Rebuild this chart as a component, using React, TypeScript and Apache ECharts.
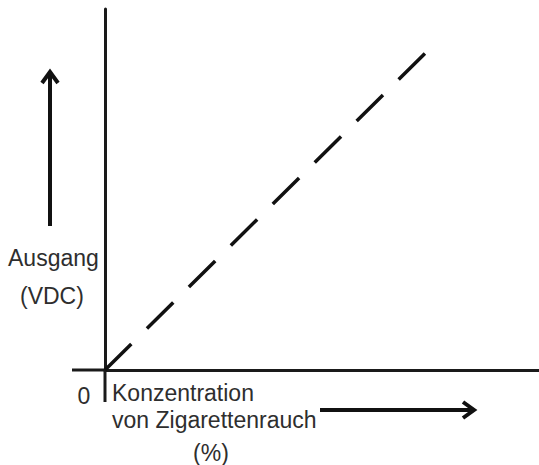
import React, { useEffect, useRef } from "react";
import * as echarts from "echarts";

const concentration = [0, 74];
const output = [0, 88];
const yLabelLines = ["Ausgang", "(VDC)"];
const xLabelLines = ["Konzentration", "von Zigarettenrauch", "(%)"];
const originLabel = "0";

const FONT = "'Liberation Sans', Arial, sans-serif";
const TEXT_COLOR = "#2e2e2e";
const LINE_COLOR = "#1a1a1a";

export default function App() {
  const ref = useRef<HTMLDivElement>(null);
  useEffect(() => {
    if (!ref.current) return;
    const chart = echarts.init(ref.current, undefined, { renderer: "svg" });
    const textStyle = (s: string, x: number, y: number, align = "left") => ({
      type: "text",
      x,
      y,
      style: {
        text: s,
        fill: TEXT_COLOR,
        font: `23px ${FONT}`,
        textAlign: align,
        textVerticalAlign: "middle",
      },
    });
    chart.setOption({
      animation: false,
      backgroundColor: "#ffffff",
      grid: { left: 105, right: 0, top: 9, bottom: 95 },
      xAxis: {
        type: "value",
        min: 0,
        max: 100,
        axisLine: { show: true, onZero: true, lineStyle: { color: LINE_COLOR, width: 3 } },
        axisTick: { show: false },
        axisLabel: { show: false },
        splitLine: { show: false },
      },
      yAxis: {
        type: "value",
        min: 0,
        max: 100,
        axisLine: { show: true, lineStyle: { color: LINE_COLOR, width: 3 } },
        axisTick: { show: false },
        axisLabel: { show: false },
        splitLine: { show: false },
      },
      series: [
        {
          type: "line",
          data: concentration.map((c, i) => [c, output[i]]),
          symbol: "none",
          clip: false,
          lineStyle: { color: "#111111", width: 3.5, type: [37, 22] },
        },
      ],
      graphic: [
        // axis extensions
        { type: "line", shape: { x1: 105, y1: 370, x2: 105, y2: 402 }, style: { stroke: LINE_COLOR, lineWidth: 3 } },
        { type: "line", shape: { x1: 72, y1: 370, x2: 105, y2: 370 }, style: { stroke: LINE_COLOR, lineWidth: 3 } },
        // up arrow
        { type: "line", shape: { x1: 50, y1: 226, x2: 50, y2: 73 }, style: { stroke: "#111", lineWidth: 4 } },
        { type: "polyline", shape: { points: [[42, 83], [50, 72], [58, 83]] }, style: { stroke: "#111", lineWidth: 4, fill: null } },
        // right arrow
        { type: "line", shape: { x1: 320, y1: 410, x2: 473, y2: 410 }, style: { stroke: "#111", lineWidth: 4 } },
        { type: "polyline", shape: { points: [[463, 402], [474, 410], [463, 418]] }, style: { stroke: "#111", lineWidth: 4, fill: null } },
        // texts
        textStyle(yLabelLines[0], 8, 258),
        textStyle(yLabelLines[1], 20, 296),
        textStyle(originLabel, 84, 396, "center"),
        textStyle(xLabelLines[0], 112, 393),
        textStyle(xLabelLines[1], 112, 420),
        textStyle(xLabelLines[2], 211, 453, "center"),
      ],
    });
    return () => chart.dispose();
  }, []);
  return (
    <div
      ref={ref}
      style={{ position: "fixed", left: 0, top: 0, width: 539, height: 465 }}
    />
  );
}
